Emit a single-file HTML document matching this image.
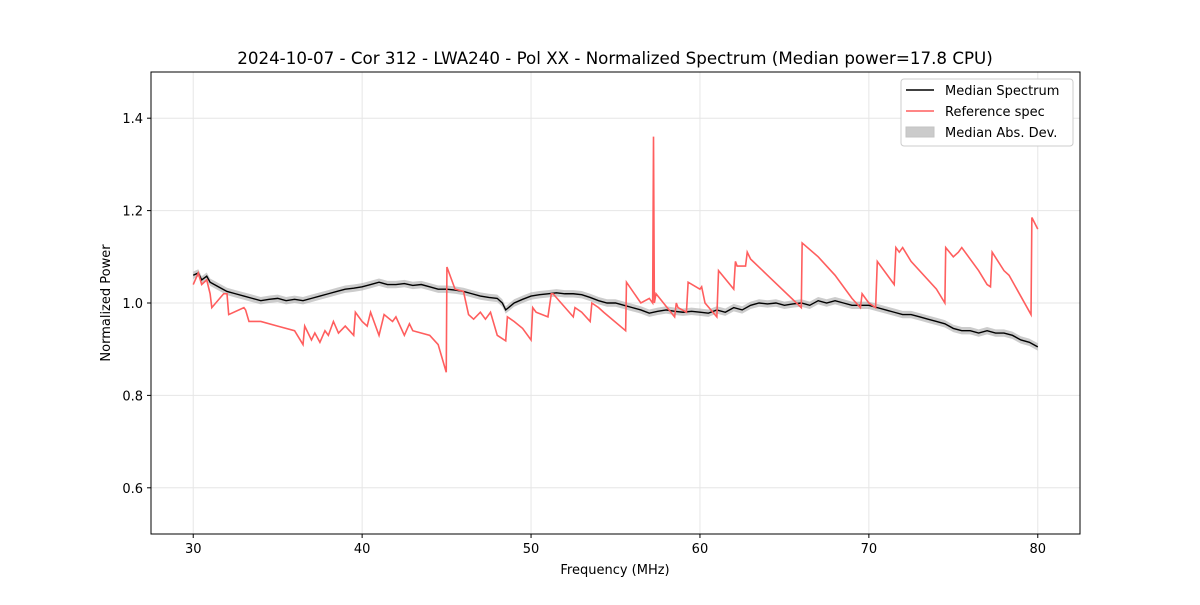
<!DOCTYPE html>
<html><head><meta charset="utf-8"><style>
body{margin:0;background:#fff;font-family:"Liberation Sans","DejaVu Sans",sans-serif}
svg text{font-family:"DejaVu Sans","Liberation Sans",sans-serif}
</style></head><body>
<svg id="chart" width="1200" height="600" xmlns="http://www.w3.org/2000/svg"></svg>
<script>
const xTicks=[30,40,50,60,70,80];
const yTicks=[0.6,0.8,1.0,1.2,1.4];
const medFreq=[30,30.3,30.5,30.8,31,31.5,32,32.5,33,33.5,34,34.5,35,35.5,36,36.5,37,37.5,38,38.5,39,39.5,40,40.5,41,41.5,42,42.5,43,43.5,44,44.5,45,45.5,46,46.5,47,47.5,48,48.3,48.5,49,49.5,50,50.5,51,51.5,52,52.5,53,53.5,54,54.5,55,55.5,56,56.5,57,57.5,58,58.5,59,59.5,60,60.5,61,61.5,62,62.5,63,63.5,64,64.5,65,65.5,66,66.5,67,67.5,68,68.5,69,69.5,70,70.5,71,71.5,72,72.5,73,73.5,74,74.5,75,75.5,76,76.5,77,77.5,78,78.5,79,79.5,80];
const medVal=[1.06,1.065,1.05,1.058,1.045,1.035,1.025,1.02,1.015,1.01,1.005,1.008,1.01,1.005,1.008,1.005,1.01,1.015,1.02,1.025,1.03,1.032,1.035,1.04,1.045,1.04,1.04,1.042,1.038,1.04,1.035,1.03,1.03,1.028,1.025,1.02,1.015,1.012,1.01,1.0,0.985,1.0,1.008,1.015,1.018,1.02,1.022,1.02,1.02,1.018,1.012,1.005,1.0,1.0,0.995,0.99,0.985,0.978,0.982,0.985,0.982,0.98,0.982,0.98,0.978,0.985,0.98,0.99,0.985,0.995,1.0,0.998,1.0,0.995,0.998,1.0,0.995,1.005,1.0,1.005,1.0,0.995,0.995,0.995,0.99,0.985,0.98,0.975,0.975,0.97,0.965,0.96,0.955,0.945,0.94,0.94,0.935,0.94,0.935,0.935,0.93,0.92,0.915,0.905];
const refFreq=[30,30.3,30.5,30.8,31,31.1,31.8,32,32.1,33,33.1,33.3,34,35,36,36.5,36.6,37,37.2,37.5,37.8,38,38.3,38.6,39,39.5,39.6,40,40.3,40.5,41,41.3,41.8,42,42.5,42.8,43,44,44.5,44.98,45.02,45.5,46,46.3,46.6,47,47.3,47.6,48,48.5,48.6,49,49.5,50,50.1,50.3,51,51.2,51.3,52.5,52.6,53,53.5,53.6,54,54.3,55.6,55.65,56.5,57,57.2,57.25,57.3,57.4,58.5,58.6,58.7,59.2,59.3,60,60.1,60.3,61,61.1,62,62.1,62.2,62.7,62.8,63,64,66,66.05,67,68,69,69.5,69.6,70,70.4,70.5,71.5,71.6,71.8,72,72.5,74,74.5,74.55,75,75.3,75.5,76.5,77,77.2,77.3,78,78.3,79.6,79.65,80];
const refVal=[1.04,1.065,1.04,1.05,1.02,0.99,1.02,1.02,0.975,0.99,0.985,0.96,0.96,0.95,0.94,0.91,0.95,0.92,0.935,0.915,0.94,0.93,0.96,0.935,0.95,0.93,0.98,0.96,0.95,0.98,0.93,0.975,0.96,0.97,0.93,0.955,0.94,0.93,0.91,0.85,1.078,1.03,1.025,0.975,0.965,0.98,0.965,0.98,0.93,0.918,0.97,0.96,0.945,0.92,0.99,0.98,0.97,1.02,1.02,0.97,0.99,0.98,0.96,1.0,0.99,0.98,0.94,1.045,1.0,1.01,1.0,1.36,1.0,1.02,0.97,1.0,0.99,0.98,1.045,1.03,1.035,1.0,0.97,1.07,1.03,1.09,1.08,1.08,1.11,1.095,1.06,0.99,1.13,1.1,1.06,1.01,0.99,1.02,1.0,0.99,1.09,1.04,1.12,1.11,1.12,1.09,1.03,1.0,1.12,1.1,1.11,1.12,1.07,1.04,1.035,1.11,1.07,1.06,0.975,1.185,1.16];
const L=151,R=1080,T=72,B=534,X0=27.5,X1=82.5,Y0=0.5,Y1=1.5;
const sx=v=>L+(v-X0)/(X1-X0)*(R-L), sy=v=>B-(v-Y0)/(Y1-Y0)*(B-T);
const svg=document.getElementById('chart');
function mk(tag,attrs,txt){const e=document.createElementNS('http://www.w3.org/2000/svg',tag);for(const k in attrs)e.setAttribute(k,attrs[k]);if(txt!==undefined)e.textContent=txt;svg.appendChild(e);return e;}
xTicks.forEach(t=>{const x=sx(t);
const g=mk('line',{x1:x,x2:x,y1:T,y2:B,stroke:'#e6e6e6'});
mk('line',{x1:x,x2:x,y1:B,y2:B+4,stroke:'#000'});
const l=mk('text',{x:x,y:B+19,'font-size':13,'text-anchor':'middle'},String(t));});
yTicks.forEach(t=>{const y=sy(t);
const g=mk('line',{x1:L,x2:R,y1:y,y2:y,stroke:'#e6e6e6'});
mk('line',{x1:L-4,x2:L,y1:y,y2:y,stroke:'#000'});
const l=mk('text',{x:L-8,y:y+5,'font-size':13,'text-anchor':'end'},t.toFixed(1));});
let up=medFreq.map((f,i)=>sx(f)+','+sy(medVal[i]+0.008)).join(' ');
let dn=medFreq.map((f,i)=>sx(f)+','+sy(medVal[i]-0.008)).reverse().join(' ');
const band=mk('polygon',{points:up+' '+dn,fill:'#999',opacity:0.5});

const ml=mk('polyline',{points:medFreq.map((f,i)=>sx(f)+','+sy(medVal[i])).join(' '),fill:'none',stroke:'#000','stroke-width':1.4});

const rl=mk('polyline',{points:refFreq.map((f,i)=>sx(f)+','+sy(refVal[i])).join(' '),fill:'none',stroke:'#ff5e5e','stroke-width':1.6});

const fr=mk('rect',{x:L,y:T,width:R-L,height:B-T,fill:'none',stroke:'#000','stroke-width':1});

const ti=mk('text',{x:615,y:64,'font-size':16.7,'text-anchor':'middle'},'2024-10-07 - Cor 312 - LWA240 - Pol XX - Normalized Spectrum (Median power=17.8 CPU)');

const xt=mk('text',{x:615,y:574,'font-size':13,'text-anchor':'middle'},'Frequency (MHz)');

const yt=mk('text',{x:110,y:303,'font-size':13,'text-anchor':'middle',transform:'rotate(-90 110 303)'},'Normalized Power');

const lg=mk('rect',{x:901,y:79,width:172,height:67,fill:'#fff',stroke:'#ccc',rx:3});

mk('line',{x1:906,x2:934,y1:90,y2:90,stroke:'#000','stroke-width':1.6});
let e=mk('text',{x:945,y:95,'font-size':13},'Median Spectrum');
mk('line',{x1:906,x2:934,y1:111,y2:111,stroke:'#ff5e5e','stroke-width':1.6});
e=mk('text',{x:945,y:116,'font-size':13},'Reference spec');
mk('rect',{x:906,y:127,width:28,height:10,fill:'#999',opacity:0.5,stroke:'#888'});
e=mk('text',{x:945,y:137,'font-size':13},'Median Abs. Dev.');
</script>
</body></html>
